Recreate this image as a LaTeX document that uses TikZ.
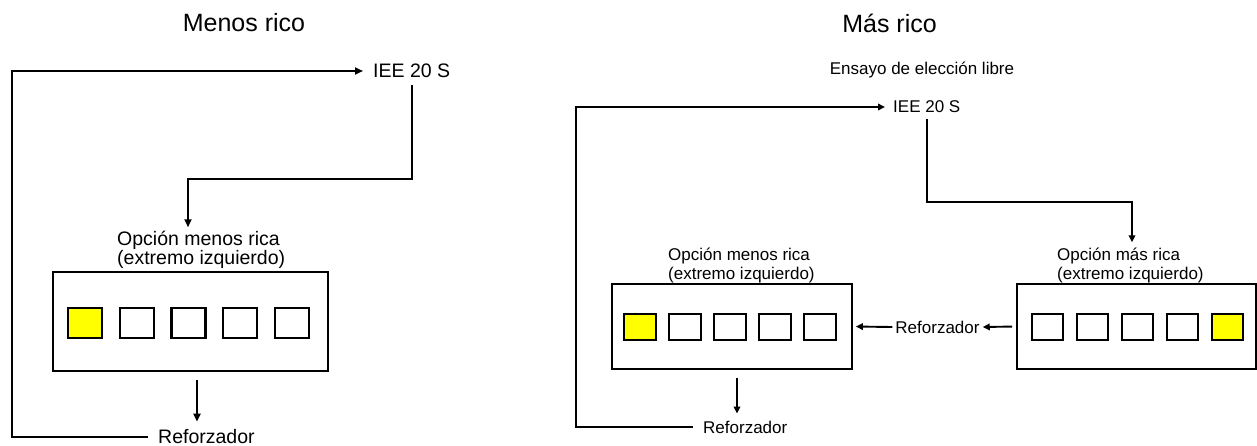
\documentclass[tikz,border=0pt]{standalone}
\usepackage{fontspec}
\setmainfont{Liberation Sans}
\usetikzlibrary{arrows.meta,positioning,calc}
\definecolor{keyyellow}{RGB}{255,255,0}

\begin{document}
\begin{tikzpicture}[x=1pt, y=-1pt,
    panel/.style={rectangle, draw, line width=2pt, inner sep=0pt},
    key/.style={rectangle, draw, line width=2.2pt, fill=white, inner sep=0pt},
    lit/.style={key, fill=keyyellow},
    big/.style={font=\fontsize{19.5}{18}\selectfont},
    small/.style={font=\fontsize{17}{19}\selectfont},
    arr/.style={-{Triangle[length=8pt,width=7pt]}, line width=2.2pt},
    arrs/.style={-{Triangle[length=7pt,width=6.5pt]}, line width=1.9pt}
]
\useasboundingbox (0,0) rectangle (1257,446);

% menos rico: one option panel
\node[font=\fontsize{25}{30}\selectfont] (titleL) at (244,23) {Menos rico};
\node[big, anchor=west, inner xsep=10pt, inner ysep=7pt] (ieeL) at (363,71) {IEE 20 S};
\node[big, anchor=base west, inner xsep=0pt, inner ysep=4pt, align=left] (optL) at (117,265)
    {Opción menos rica\\(extremo izquierdo)};
\node[panel, minimum width=275pt, minimum height=99pt] (boxL) at (190.5,321.5) {};
\foreach \i/\s in {1/lit,2/key,3/key,4/key,5/key}
    \node[\s, minimum width=34pt, minimum height=30pt] (keyL\i) at ({85+51.7*(\i-1)},323) {};
\node[big, anchor=west, inner xsep=10pt, inner ysep=8pt] (refL) at (148,437) {Reforzador};

\coordinate (railL) at (12,0);
\coordinate (bendL) at (188,179);
\coordinate (dropL) at (197,371);
\draw[arr] (refL.west) -| (railL |- ieeL.west) -- (ieeL.west);
\draw[arr] (ieeL.south) |- (bendL) -- (bendL |- optL.north);
\draw[arr, shorten <=9pt] (dropL) -- (dropL |- refL.north);

% mas rico: free choice between two panels
\node[font=\fontsize{25}{30}\selectfont] (titleR) at (889.5,23) {Más rico};
\node[small] (trial) at (922,70) {Ensayo de elección libre};
\node[small, anchor=west, inner xsep=8pt, inner ysep=6pt] (ieeR) at (885,107) {IEE 20 S};

\node[small, anchor=base west, inner xsep=0pt, inner ysep=4pt, align=left] (optLow) at (668,279)
    {Opción menos rica\\(extremo izquierdo)};
\node[panel, line width=1.8pt, minimum width=240pt, minimum height=85pt] (boxLow) at (732,326.5) {};
\foreach \i/\s in {1/lit,2/key,3/key,4/key,5/key}
    \node[\s, line width=2pt, minimum width=32pt, minimum height=26pt] (keyLow\i) at ({640+45.1*(\i-1)},327) {};

\node[small, anchor=base west, inner xsep=0pt, inner ysep=5pt, align=left] (optHigh) at (1057,279)
    {Opción más rica\\(extremo izquierdo)};
\node[panel, line width=1.8pt, minimum width=239pt, minimum height=85pt] (boxHigh) at (1136.5,326.5) {};
\foreach \i/\s in {1/key,2/key,3/key,4/key,5/lit}
    \node[\s, line width=2pt, minimum width=31pt, minimum height=26pt] (keyHigh\i) at ({1047.5+45.1*(\i-1)},327) {};

\node[small, inner xsep=3pt] (refMid) at (937.5,327) {Reforzador};
\node[small, anchor=west, inner xsep=10pt, inner ysep=7pt] (refR) at (693,427) {Reforzador};

\coordinate (railR) at (576,0);
\coordinate (bendR) at (1132,202);
\coordinate (dropR) at (737,369);
\draw[arrs] (refR.west) -| (railR |- ieeR.west) -- (ieeR.west);
\draw[arrs] (ieeR.south) |- (bendR) -- (bendR |- optHigh.north);
\draw[arrs, shorten <=4pt] (boxHigh.west) -- (refMid.east);
\draw[arrs, shorten >=3pt] (refMid.west) -- (boxLow.east);
\draw[arrs, shorten <=9pt] (dropR) -- (dropR |- refR.north);
\end{tikzpicture}
\end{document}
